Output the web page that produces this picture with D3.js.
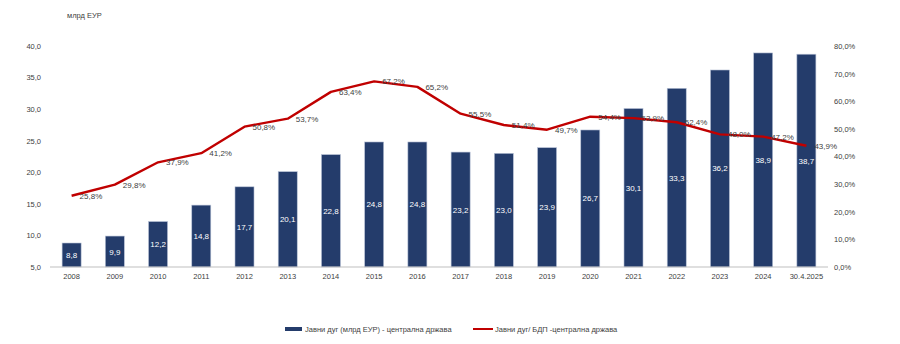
<!DOCTYPE html>
<html><head><meta charset="utf-8">
<script src="https://cdn.jsdelivr.net/npm/d3@7"></script>
<style>body{margin:0;background:#fff}svg{font-family:"Liberation Sans",Arial,sans-serif}</style>
</head><body><svg id="c" width="900" height="344"></svg>
<script>
const categories = ["2008","2009","2010","2011","2012","2013","2014","2015","2016","2017","2018","2019","2020","2021","2022","2023","2024","30.4.2025"];
const debtEUR = [8.8,9.9,12.2,14.8,17.7,20.1,22.8,24.8,24.8,23.2,23.0,23.9,26.7,30.1,33.3,36.2,38.9,38.7];
const debtGDP = [25.8,29.8,37.9,41.2,50.8,53.7,63.4,67.2,65.2,55.5,51.4,49.7,54.4,53.9,52.4,48.0,47.2,43.9];
const leftTicks = [5,10,15,20,25,30,35,40];
const rightTicks = [0,10,20,30,40,50,60,70,80];
const seriesNames = ["Јавни дуг (млрд ЕУР) - централна држава","Јавни дуг/ БДП -централна држава"];
const unitLabel = "млрд ЕУР";

const svg = d3.select("#c");
const L=50,R=828,T=46,B=267;
const fmt = v => v.toFixed(1).replace(".",",");
const x = d3.scaleBand().domain(categories).range([L,R]).paddingInner(0.56).paddingOuter(0.28);
const y = d3.scaleLinear().domain([5,40]).range([B,T]);
const y2 = d3.scaleLinear().domain([0,80]).range([B,T]);

// bars
svg.append("g").selectAll("rect").data(categories).join("rect")
  .attr("x",d=>x(d)).attr("width",x.bandwidth())
  .attr("y",(d,i)=>y(debtEUR[i])).attr("height",(d,i)=>B-y(debtEUR[i]))
  .attr("fill","#243c6b").attr("stroke","#b8c2d6").attr("stroke-width",0.6);
svg.append("g").selectAll("text").data(categories).join("text")
  .attr("x",d=>x(d)+x.bandwidth()/2).attr("y",(d,i)=>(y(debtEUR[i])+B)/2+3)
  .attr("text-anchor","middle").attr("fill","#fff").attr("font-size",8)
  .text((d,i)=>fmt(debtEUR[i]));

// baseline
svg.append("line").attr("x1",L).attr("x2",R).attr("y1",B).attr("y2",B).attr("stroke","#bfbfbf").attr("stroke-width",1);

// axes
const la = svg.append("g").attr("transform",`translate(${L},0)`).call(d3.axisLeft(y).tickValues(leftTicks).tickFormat(fmt).tickSize(0).tickPadding(9));
const ra = svg.append("g").attr("transform",`translate(${R},0)`).call(d3.axisRight(y2).tickValues(rightTicks).tickFormat(d=>fmt(d)+"%").tickSize(0).tickPadding(6));
const ba = svg.append("g").attr("transform",`translate(0,${B})`).call(d3.axisBottom(x).tickSize(0).tickPadding(7));
[la,ra,ba].forEach(g=>{g.select(".domain").remove();g.selectAll("text").attr("font-size",7.5).attr("fill","#404040").attr("font-family","Liberation Sans, Arial, sans-serif");});

svg.append("text").attr("x",67).attr("y",18).attr("font-size",7.5).attr("fill","#404040").text(unitLabel);

// line
const line = d3.line().x((d,i)=>x(categories[i])+x.bandwidth()/2).y(d=>y2(d));
svg.append("path").datum(debtGDP).attr("d",line).attr("fill","none").attr("stroke","#c00000").attr("stroke-width",2.4).attr("stroke-linejoin","round");
svg.append("g").selectAll("text").data(debtGDP).join("text")
  .attr("x",(d,i)=>x(categories[i])+x.bandwidth()/2+8).attr("y",d=>y2(d)+3)
  .attr("font-size",8).attr("fill","#404040").text(d=>fmt(d)+"%");

// legend
const lg = svg.append("g").attr("font-size",7.5).attr("fill","#404040");
lg.append("rect").attr("x",285).attr("y",327).attr("width",17).attr("height",4).attr("fill","#243c6b");
lg.append("text").attr("x",305).attr("y",332).text(seriesNames[0]);
lg.append("line").attr("x1",473).attr("x2",493).attr("y1",329).attr("y2",329).attr("stroke","#c00000").attr("stroke-width",2);
lg.append("text").attr("x",495).attr("y",332).text(seriesNames[1]);
</script></body></html>
